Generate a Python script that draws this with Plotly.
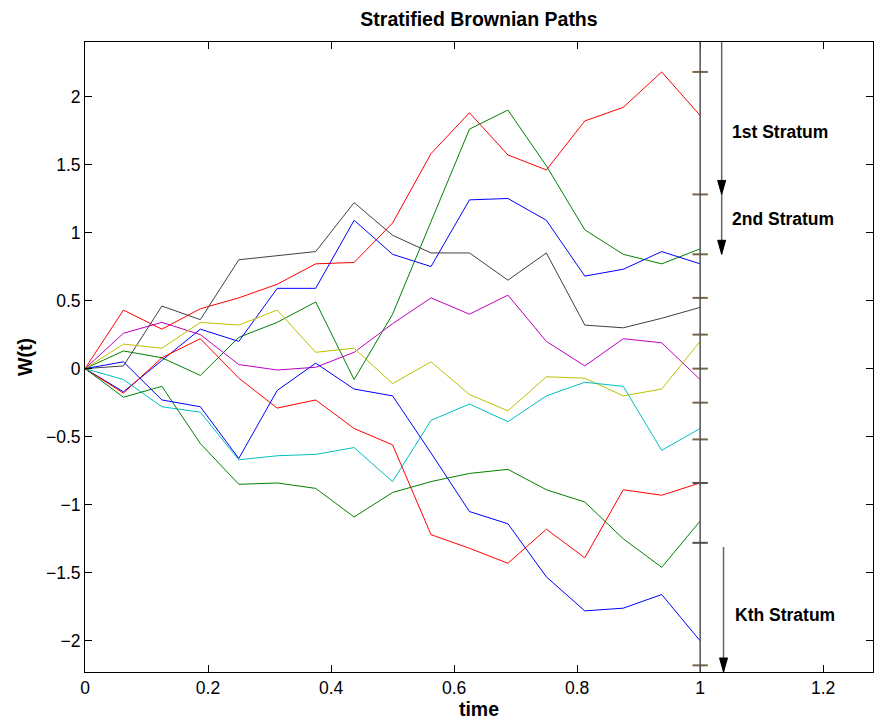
import plotly.graph_objects as go

# Time grid (16 steps on [0, 1])
t = [0, 0.0625, 0.125, 0.1875, 0.25, 0.3125, 0.375, 0.4375, 0.5,
     0.5625, 0.625, 0.6875, 0.75, 0.8125, 0.875, 0.9375, 1.0]

# One Brownian path per stratum
w_red_1 = [0, 0.43, 0.29, 0.44, 0.52, 0.62, 0.77, 0.78, 1.07, 1.58, 1.88, 1.57, 1.46, 1.82, 1.92, 2.18, 1.86]
w_green_1 = [0, 0.13, 0.08, -0.05, 0.23, 0.34, 0.49, -0.08, 0.40, 1.08, 1.76, 1.90, 1.49, 1.02, 0.84, 0.77, 0.88]
w_blue_1 = [0, -0.17, 0.06, 0.29, 0.20, 0.59, 0.59, 1.09, 0.84, 0.75, 1.24, 1.25, 1.09, 0.68, 0.73, 0.86, 0.77]
w_black = [0, 0.02, 0.46, 0.36, 0.80, 0.83, 0.86, 1.22, 0.98, 0.85, 0.85, 0.65, 0.85, 0.32, 0.30, 0.37, 0.45]
w_magenta = [0, 0.26, 0.34, 0.25, 0.03, -0.01, 0.01, 0.12, 0.33, 0.52, 0.40, 0.54, 0.20, 0.02, 0.22, 0.19, -0.08]
w_yellow = [0, 0.18, 0.15, 0.34, 0.32, 0.43, 0.12, 0.15, -0.11, 0.05, -0.19, -0.31, -0.06, -0.07, -0.20, -0.15, 0.20]
w_cyan = [0, -0.08, -0.28, -0.32, -0.67, -0.64, -0.63, -0.58, -0.83, -0.38, -0.26, -0.39, -0.20, -0.10, -0.13, -0.60, -0.44]
w_red_2 = [0, -0.18, 0.08, 0.22, -0.07, -0.29, -0.23, -0.44, -0.56, -1.22, -1.32, -1.43, -1.18, -1.39, -0.89, -0.93, -0.84]
w_green_2 = [0, -0.21, -0.13, -0.55, -0.85, -0.84, -0.88, -1.09, -0.91, -0.83, -0.77, -0.74, -0.89, -0.98, -1.25, -1.46, -1.12]
w_blue_2 = [0, 0.05, -0.23, -0.28, -0.66, -0.16, 0.04, -0.15, -0.20, -0.62, -1.05, -1.14, -1.53, -1.78, -1.76, -1.66, -2.00]

# Stratum boundaries of W(1)
stratum_bounds = [2.18, 1.28, 0.84, 0.52, 0.25, 0.0, -0.25, -0.52, -0.84, -1.28, -2.18]

# Stratum labels
stratum_labels = ["1st Stratum", "2nd Stratum", "Kth Stratum"]

paths = [w_red_1, w_green_1, w_blue_1, w_black, w_magenta,
         w_yellow, w_cyan, w_red_2, w_green_2, w_blue_2]
path_colors = ["#FF0000", "#008000", "#0000FF", "#404040", "#BF00BF",
               "#BFBF00", "#00BFBF", "#FF0000", "#008000", "#0000FF"]
bound_colors = ["#7B6548"] * 8 + ["#505050", "#505050", "#7B6548"]

FONT = "Liberation Sans, Arial, Helvetica, sans-serif"
X_RANGE = [0, 1.281]
Y_RANGE = [-2.229, 2.40]

fig = go.Figure()

for w, c in zip(paths, path_colors):
    fig.add_trace(go.Scatter(x=t, y=w, mode="lines",
                             line=dict(color=c, width=1), hoverinfo="skip"))

# boundary marks on the terminal-time line
fig.add_trace(go.Scatter(
    x=[t[-1]] * len(stratum_bounds), y=stratum_bounds, mode="markers",
    marker=dict(symbol="line-ew", size=11,
                line=dict(color=bound_colors, width=2)),
    hoverinfo="skip"))

shapes = [
    # terminal-time line
    dict(type="line", xref="x", yref="paper", x0=t[-1], x1=t[-1], y0=0, y1=1,
         line=dict(color="#505050", width=1.5)),
]

ARROW_X1 = 1.035
ARROW_X2 = 1.038


def shaft(x, y0, y1):
    return dict(type="line", xref="x", yref="y", x0=x, x1=x, y0=y0, y1=y1,
                line=dict(color="#666666", width=1.5))


def head(x, y):
    return dict(type="path", xref="x", yref="y",
                xsizemode="pixel", ysizemode="pixel",
                xanchor=x, yanchor=y,
                path="M -4 14 L 4 14 L 0 0 Z",
                fillcolor="black", line=dict(color="black", width=1))


shapes += [
    shaft(ARROW_X1, Y_RANGE[1], stratum_bounds[2]),
    head(ARROW_X1, stratum_bounds[1]),
    head(ARROW_X1, stratum_bounds[2]),
    shaft(ARROW_X2, -1.31, Y_RANGE[0]),
    head(ARROW_X2, Y_RANGE[0]),
]

label_pos = [(1.049, 1.74), (1.049, 1.10), (1.054, -1.807)]
annotations = [
    dict(x=x, y=y, xref="x", yref="y", text=s, showarrow=False,
         xanchor="left", yanchor="middle",
         font=dict(family=FONT, size=17.5, color="black", weight="bold"))
    for s, (x, y) in zip(stratum_labels, label_pos)
]

axis_common = dict(
    ticks="inside", ticklen=7, tickwidth=1, tickcolor="black",
    showline=True, linecolor="black", linewidth=1, mirror="ticks",
    showgrid=False, zeroline=False,
    tickfont=dict(family=FONT, size=17.5, color="black"),
)

fig.update_layout(
    width=874, height=720,
    margin=dict(l=85, r=1, t=42, b=48),
    paper_bgcolor="white", plot_bgcolor="white",
    showlegend=False,
    title=dict(text="Stratified Brownian Paths", x=0.5, xref="paper",
               y=1 - 19 / 720, yref="container", yanchor="middle",
               font=dict(family=FONT, size=19.5, color="black", weight="bold")),
    xaxis=dict(range=X_RANGE, dtick=0.2, tick0=0,
               title=dict(text="time", standoff=4,
                          font=dict(family=FONT, size=19.5, color="black", weight="bold")),
               **axis_common),
    yaxis=dict(range=Y_RANGE, dtick=0.5, tick0=0,
               title=dict(text="W(t)", standoff=8,
                          font=dict(family=FONT, size=19.5, color="black", weight="bold")),
               **axis_common),
    shapes=shapes,
    annotations=annotations,
)

fig.write_html("out.html")
